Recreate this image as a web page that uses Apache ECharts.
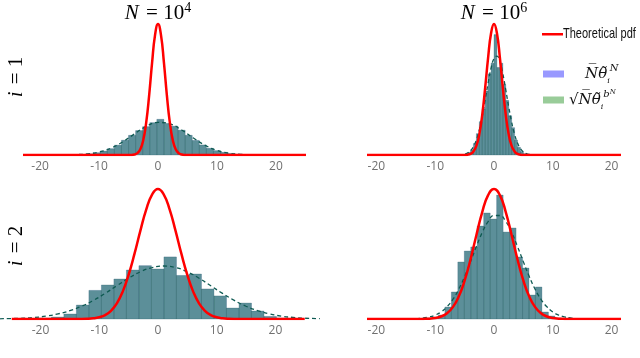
<!DOCTYPE html>
<html>
<head>
<meta charset="utf-8">
<script src="https://cdn.jsdelivr.net/npm/echarts@6/dist/echarts.min.js"></script>
<style>
html, body { margin: 0; padding: 0; background: #fff; }
#chart { width: 640px; height: 358px; }
</style>
</head>
<body>
<div id="chart"></div>
<script>
// ---- i = 1, N = 10^4 (top left) ----
var edgesTL = [-14.6, -13.4, -12.2, -11.0, -9.8, -8.6, -7.4, -6.2, -5.0, -3.8, -2.6, -1.4, -0.2,
    1.0, 2.2, 3.4, 4.6, 5.8, 7.0, 8.2, 9.4, 10.6, 11.8, 13.0, 14.2, 15.4, 16.6];
var densTL = [.0008, .0015, .0030, .0058, .0100, .0160, .0250, .0375, .0500, .0620, .0720, .0820, .0906,
    .0800, .0730, .0630, .0500, .0370, .0255, .0170, .0110, .0068, .0040, .0022, .0012, .0005];
var pdfXTL = [-22.9, -6, -4.5, -4, -3.5, -3, -2.5, -2, -1.5, -1, -0.5, 0, 0.5, 1, 1.5, 2, 2.5, 3, 3.5, 4, 4.5, 6, 25.1];
var pdfYTL = [0, 0, .0002, .0013, .0047, .0146, .0380, .0829, .1522, .2349, .3048, .3324, .3048, .2349, .1522, .0829, .0380, .0146, .0047, .0013, .0002, 0, 0];
var fitXTL = [-22.9, -18, -16, -14, -12, -10, -8, -6, -4, -2, 0, 2, 4, 6, 8, 10, 12, 14, 16, 18, 20, 25.1];
var fitYTL = [0, .0001, .0002, .0009, .0028, .0076, .0173, .0332, .0535, .0725, .0826, .0790, .0636, .0431, .0245, .0117, .0047, .0016, .0005, .0001, 0, 0];

// ---- i = 1, N = 10^6 (top right) ----
var edgesTR = [-5, -4.5, -4, -3.5, -3, -2.5, -2, -1.5, -1, -0.5, 0, 0.5, 1, 1.5, 2, 2.5, 3, 3.5, 4, 4.5, 5, 5.5];
var densTR = [.002, .006, .012, .027, .050, .078, .108, .150, .190, .215, .282, .205, .215, .165, .128, .092, .064, .035, .018, .008, .003];
var pdfXTR = [-21.6, -6, -5, -4.5, -4, -3.5, -3, -2.5, -2, -1.5, -1, -0.5, 0, 0.5, 1, 1.5, 2, 2.5, 3, 3.5, 4, 4.5, 5, 6, 21.6];
var pdfYTR = [0, 0, .0002, .0008, .0027, .0082, .0214, .0483, .0940, .1577, .2283, .2850, .3069, .2850, .2283, .1577, .0940, .0483, .0214, .0082, .0027, .0008, .0002, 0, 0];
var fitXTR = [-21.6, -7, -6, -5, -4.5, -4, -3.5, -3, -2.5, -2, -1.5, -1, -0.5, 0, 0.5, 1, 1.5, 2, 2.5, 3, 3.5, 4, 4.5, 5, 5.5, 6, 7, 21.6];
var fitYTR = [0, 0, .0003, .0020, .0046, .0098, .0194, .0352, .0588, .0906, .1287, .1685, .2033, .2260, .2316, .2188, .1904, .1527, .1129, .0770, .0483, .0280, .0149, .0073, .0033, .0014, .0002, 0];

// ---- i = 2, N = 10^4 (bottom left) ----
var edgesBL = [-20.28, -18.15, -16.02, -13.89, -11.76, -9.63, -7.5, -5.37, -3.24, -1.11, 1.02,
    3.15, 5.28, 7.41, 9.54, 11.67, 13.8, 15.93, 18.06, 20.19, 22.32];
var densBL = [.0009, .0018, .0045, .0126, .0258, .0307, .0361, .0442, .0481, .0451, .0560,
    .0393, .0406, .0271, .0208, .0099, .0144, .0072, .0023, .0009];
var pdfXBL = [-24.9, -14, -12, -11, -10, -9, -8, -7, -6, -5, -4, -3, -2, -1, 0, 1, 2, 3, 4, 5, 6, 7, 8, 9, 10, 11, 12, 14, 25];
var pdfYBL = [0, 0, .0002, .0006, .0016, .0035, .0074, .0141, .0247, .0398, .0587, .0795, .0987, .1123, .1173,
    .1123, .0987, .0795, .0587, .0398, .0247, .0141, .0074, .0035, .0016, .0006, .0002, 0, 0];
var fitXBL = [-26.9, -25, -23, -21, -19, -17, -15, -13, -11, -9, -7, -5, -3, -1, 1, 3, 5, 7, 9, 11, 13, 15, 17, 19, 21, 23, 25, 27, 27.6];
var fitYBL = [.0002, .0004, .0007, .0014, .0026, .0046, .0075, .0115, .0168, .0231, .0300, .0368, .0426, .0464, .0478,
    .0464, .0426, .0368, .0300, .0231, .0168, .0115, .0075, .0046, .0026, .0014, .0007, .0004, .0003];

// ---- i = 2, N = 10^6 (bottom right) ----
var edgesBR = [-11.65, -10.55, -9.45, -8.35, -7.25, -6.15, -5.05, -3.95, -2.85, -1.75, -0.65,
    0.45, 1.55, 2.65, 3.75, 4.85, 5.95, 7.05, 8.15, 9.25, 10.35, 11.45];
var densBR = [.0010, .0019, .0038, .0115, .0259, .0547, .0652, .0691, .0892, .1017, .0959,
    .1189, .0834, .0873, .0595, .0489, .0230, .0307, .0067, .0029, .0010];
var pdfXBR = [-21.6, -14, -12, -11, -10, -9, -8, -7, -6, -5, -4, -3, -2, -1, 0, 1, 2, 3, 4, 5, 6, 7, 8, 9, 10, 11, 12, 14, 21.6];
var pdfYBR = [0, 0, .0001, .0003, .0009, .0024, .0055, .0114, .0215, .0368, .0571, .0804, .1026, .1188, .1247,
    .1188, .1026, .0804, .0571, .0368, .0215, .0114, .0055, .0024, .0009, .0003, .0001, 0, 0];
var fitXBR = [-21.6, -15, -13, -12, -11, -10, -9, -8, -7, -6, -5, -4, -3, -2, -1, 0, 1, 2, 3, 4, 5, 6, 7, 8, 9, 10, 11, 12, 13, 14, 16, 21.6];
var fitYBR = [0, .0001, .0004, .0010, .0020, .0038, .0068, .0117, .0188, .0285, .0407, .0548, .0695, .0830, .0935, .0993,
    .0993, .0935, .0830, .0695, .0548, .0407, .0285, .0188, .0117, .0068, .0038, .0020, .0010, .0004, .0001, 0];

var tickValues = [-20, -10, 0, 10, 20];
var titles = ['10', '10'];
var titleExp = ['4', '6'];
var rowNames = ['1', '2'];

var SERIF = "'DejaVu Serif', 'Liberation Serif', serif";
var TITLE_SERIF = "'Liberation Serif', 'DejaVu Serif', serif";

function toBins(edges, dens) {
    var out = [];
    for (var i = 0; i < dens.length; i++) {
        out.push([edges[i], edges[i + 1], dens[i]]);
    }
    return out;
}

function toPoints(xs, ys) {
    var out = [];
    for (var i = 0; i < xs.length; i++) {
        out.push([xs[i], ys[i]]);
    }
    return out;
}

function renderBin(params, api) {
    var p0 = api.coord([api.value(0), 0]);
    var p1 = api.coord([api.value(1), api.value(2)]);
    return {
        type: 'rect',
        shape: { x: p0[0], y: p1[1], width: p1[0] - p0[0], height: p0[1] - p1[1] },
        style: api.style()
    };
}

var panels = [
    { grid: { left: 23, top: 20, width: 283, height: 135 }, min: -22.9, max: 25.1, yMax: .3426,
      bins: toBins(edgesTL, densTL), pdf: toPoints(pdfXTL, pdfYTL), fit: toPoints(fitXTL, fitYTL) },
    { grid: { left: 367, top: 20, width: 254, height: 135 }, min: -21.6, max: 21.6, yMax: .3162,
      bins: toBins(edgesTR, densTR), pdf: toPoints(pdfXTR, pdfYTR), fit: toPoints(fitXTR, fitYTR) },
    { grid: { left: 0, top: 184, width: 320, height: 135 }, min: -26.9, max: 27.6, yMax: .1218,
      bins: toBins(edgesBL, densBL), pdf: toPoints(pdfXBL, pdfYBL), fit: toPoints(fitXBL, fitYBL) },
    { grid: { left: 367, top: 184, width: 254, height: 135 }, min: -21.6, max: 21.6, yMax: .1295,
      bins: toBins(edgesBR, densBR), pdf: toPoints(pdfXBR, pdfYBR), fit: toPoints(fitXBR, fitYBR) }
];

var grids = [], xAxes = [], yAxes = [], series = [];
panels.forEach(function (p, i) {
    grids.push(p.grid);
    xAxes.push({
        type: 'value', gridIndex: i, min: p.min, max: p.max,
        axisLine: { show: false }, axisTick: { show: false }, splitLine: { show: false },
        axisLabel: { customValues: tickValues, color: '#707070', fontSize: 12, margin: 6, fontFamily: "'Open Sans', sans-serif" }
    });
    yAxes.push({ type: 'value', gridIndex: i, min: 0, max: p.yMax, show: false });

    series.push({
        name: 'blue', type: 'custom', xAxisIndex: i, yAxisIndex: i,
        renderItem: renderBin, encode: { x: [0, 1], y: 2 }, data: p.bins, z: 2,
        itemStyle: { color: 'rgba(0,0,255,0.4)' }
    });
    series.push({
        name: 'green', type: 'custom', xAxisIndex: i, yAxisIndex: i,
        renderItem: renderBin, encode: { x: [0, 1], y: 2 }, data: p.bins, z: 2,
        itemStyle: { color: 'rgba(0,128,0,0.4)', borderColor: 'rgba(40,95,105,0.45)', borderWidth: 0.6 }
    });
    series.push({
        name: 'fit', type: 'line', xAxisIndex: i, yAxisIndex: i, data: p.fit, z: 3,
        smooth: 0.5, symbol: 'none', silent: true,
        lineStyle: { color: '#0e5a52', width: 1.3, type: [4, 3] }
    });
    series.push({
        name: 'Theoretical pdf', type: 'line', xAxisIndex: i, yAxisIndex: i, data: p.pdf, z: 4,
        smooth: 0.5, symbol: 'none',
        lineStyle: { color: '#ff0000', width: 2.5 }, itemStyle: { color: '#ff0000' }
    });
});

var mathRich = {
    m: { fontFamily: SERIF, fontStyle: 'italic', fontSize: 15, color: '#111' },
    r: { fontFamily: SERIF, fontSize: 15, color: '#111' },
    sb: { fontFamily: SERIF, fontStyle: 'italic', fontSize: 8, color: '#111', verticalAlign: 'bottom', padding: [6, 0, 0, 0] },
    sp: { fontFamily: SERIF, fontStyle: 'italic', fontSize: 10, color: '#111', verticalAlign: 'top', padding: [0, 0, 6, 0] },
    spp: { fontFamily: SERIF, fontStyle: 'italic', fontSize: 7, color: '#111', verticalAlign: 'top', padding: [0, 0, 4, 0] },
    pad: { width: 16 }
};

var graphics = [];
[158, 494].forEach(function (cx, k) {
    graphics.push({
        type: 'text', x: cx, y: 13,
        style: {
            text: '{i|N}{r| = ' + titles[k] + '}{s|' + titleExp[k] + '}',
            align: 'center', verticalAlign: 'middle',
            rich: {
                i: { fontFamily: TITLE_SERIF, fontStyle: 'italic', fontSize: 21, color: '#111', padding: [0, 2, 0, 0] },
                r: { fontFamily: TITLE_SERIF, fontSize: 21, color: '#111' },
                s: { fontFamily: TITLE_SERIF, fontSize: 14, color: '#111', verticalAlign: 'top', padding: [0, 0, 9, 0] }
            }
        }
    });
});
[77, 246].forEach(function (cy, k) {
    graphics.push({
        type: 'text', x: 16, y: cy, rotation: Math.PI / 2,
        style: {
            text: '{i|i}{r| = ' + rowNames[k] + '}',
            align: 'center', verticalAlign: 'middle',
            rich: {
                i: { fontFamily: TITLE_SERIF, fontStyle: 'italic', fontSize: 21, color: '#111', padding: [0, 2, 0, 0] },
                r: { fontFamily: TITLE_SERIF, fontSize: 21, color: '#111' }
            }
        }
    });
});
// legend caption for the red line, squeezed like the condensed font in the original
graphics.push({
    type: 'text', x: 563, y: 34, scaleX: 0.76,
    style: { text: 'Theoretical pdf', fontFamily: "'Liberation Sans', sans-serif", fontSize: 14.5, fill: '#111', verticalAlign: 'middle' }
});

var option = {
    animation: false,
    backgroundColor: '#fff',
    grid: grids,
    xAxis: xAxes,
    yAxis: yAxes,
    legend: [
        {
            data: [{ name: 'Theoretical pdf', icon: 'rect' }],
            left: 537, top: 28, itemWidth: 21, itemHeight: 2.5, itemGap: 0,
            formatter: function () { return ''; },
            selectedMode: false
        },
        {
            data: [{ name: 'blue', icon: 'rect' }, { name: 'green', icon: 'rect' }],
            orient: 'vertical', left: 538, top: 58, itemWidth: 21, itemHeight: 7, itemGap: 4,
            selectedMode: false,
            itemStyle: { borderWidth: 0 },
            formatter: function (name) {
                if (name === 'blue') {
                    return '{pad|}{m|N\u0305\u03B8\u0303}{sb|i}{sp|N}';
                }
                return '{r|\u221A}{m|N\u0305\u03B8\u0303}{sb|i}{sp|b}{spp|N}';
            },
            textStyle: { lineHeight: 22, rich: mathRich }
        }
    ],
    graphic: graphics,
    series: series
};

var chart = echarts.init(document.getElementById('chart'));
chart.setOption(option);
</script>
</body>
</html>
